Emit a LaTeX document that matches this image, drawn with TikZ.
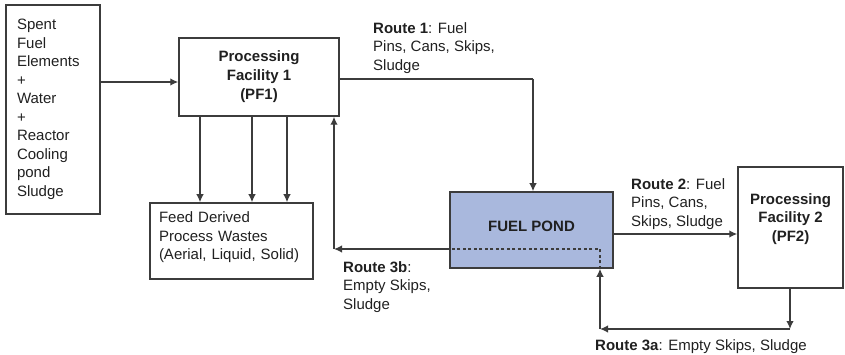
\documentclass[tikz,border=0pt]{standalone}
\usepackage{fontspec}
\setmainfont{Liberation Sans}
\usetikzlibrary{arrows.meta}
\definecolor{ln}{HTML}{3C3C3C}
\definecolor{pondfill}{HTML}{A9B8DD}
\definecolor{txt}{HTML}{202020}
\tikzset{
  box/.style={draw=ln, line width=1.5pt, rectangle, inner sep=0pt, text=txt, font=\fontsize{15}{18.5}\selectfont},
  lbl/.style={inner sep=0pt, anchor=north west, align=left, text=txt, font=\fontsize{15}{18.5}\selectfont},
  arr/.style={draw=ln, line width=1.4pt, -{Latex[length=8pt,width=7.5pt]}},
  conn/.style={draw=ln, line width=1.4pt},
  dsh/.style={draw=ln, line width=1.4pt, dash pattern=on 3pt off 2.5pt}
}
\begin{document}
\begin{tikzpicture}[x=1pt,y=-1pt]
\useasboundingbox (0,0) rectangle (845,355);
% boxes
\node[box, minimum width=94pt, minimum height=209pt, text width=72pt, inner xsep=11pt, align=left] (spent) at (53,109.5)
  {Spent\\Fuel\\Elements\\+\\Water\\+\\Reactor\\Cooling\\pond\\Sludge};
\node[box, minimum width=160pt, minimum height=78pt, align=center, font=\fontsize{15}{19}\selectfont\bfseries] (pf1) at (259,77)
  {Processing\\Facility 1\\(PF1)};
\node[box, minimum width=163pt, minimum height=76pt, text width=145pt, inner xsep=9pt, align=left] (waste) at (231.5,241)
  {\raisebox{0pt}[0pt][0pt]{\begin{tabular}{@{}l@{}}Feed Derived\\Process Wastes\\(Aerial, Liquid, Solid)\end{tabular}}};
\node[box, fill=pondfill, minimum width=163pt, minimum height=76pt, font=\fontsize{15}{18.5}\selectfont\bfseries] (pond) at (531.5,230)
  {\raisebox{-1.5pt}[0pt][0pt]{FUEL POND}};
\node[box, minimum width=105pt, minimum height=121pt, align=center, font=\fontsize{15}{18.5}\selectfont\bfseries] (pf2) at (790.5,227.5)
  {\raisebox{5pt}[0pt][0pt]{\begin{tabular}{@{}c@{}}Processing\\Facility 2\\(PF2)\end{tabular}}};
% labels
\node[lbl] (r1) at (373,22) {\textbf{Route 1}: Fuel\\Pins, Cans, Skips,\\Sludge};
\node[lbl] (r2) at (631,178) {\textbf{Route 2}: Fuel\\Pins, Cans,\\Skips, Sludge};
\node[lbl] (r3b) at (343,261) {\textbf{Route 3b}:\\Empty Skips,\\Sludge};
\node[lbl] (r3a) at (595,339) {\textbf{Route 3a}: Empty Skips, Sludge};
% coordinates
\coordinate (c1) at (533,79);
\coordinate (c3a1) at (790,329);
\coordinate (c3a2) at (600,329);
\coordinate (c3b1) at (600,249);
\coordinate (c3b2) at (334,249);
% connectors
\draw[arr] (spent.east |- 0,82) -- (pf1.west |- 0,82);
\draw[arr] (pf1.south -| 200,0) -- (waste.north -| 200,0);
\draw[arr] (pf1.south -| 252,0) -- (waste.north -| 252,0);
\draw[arr] (pf1.south -| 287,0) -- (waste.north -| 287,0);
\draw[conn] (pf1.east |- c1) -- (c1);
\draw[arr] (c1) -- (pond.north -| c1);
\draw[arr] (pond.east |- 0,234) -- (pf2.west |- 0,234);
\draw[arr] (pf2.south -| c3a1) -- (c3a1);
\draw[arr] (c3a1) -- (c3a2);
\draw[arr] (c3a2) -- (pond.south -| c3a2);
\draw[dsh] (pond.south -| c3b1) -- (c3b1) -- (pond.west |- c3b1);
\draw[arr] (pond.west |- c3b1) -- (c3b2);
\draw[arr] (c3b2) -- (pf1.south -| c3b2);
\end{tikzpicture}
\end{document}
